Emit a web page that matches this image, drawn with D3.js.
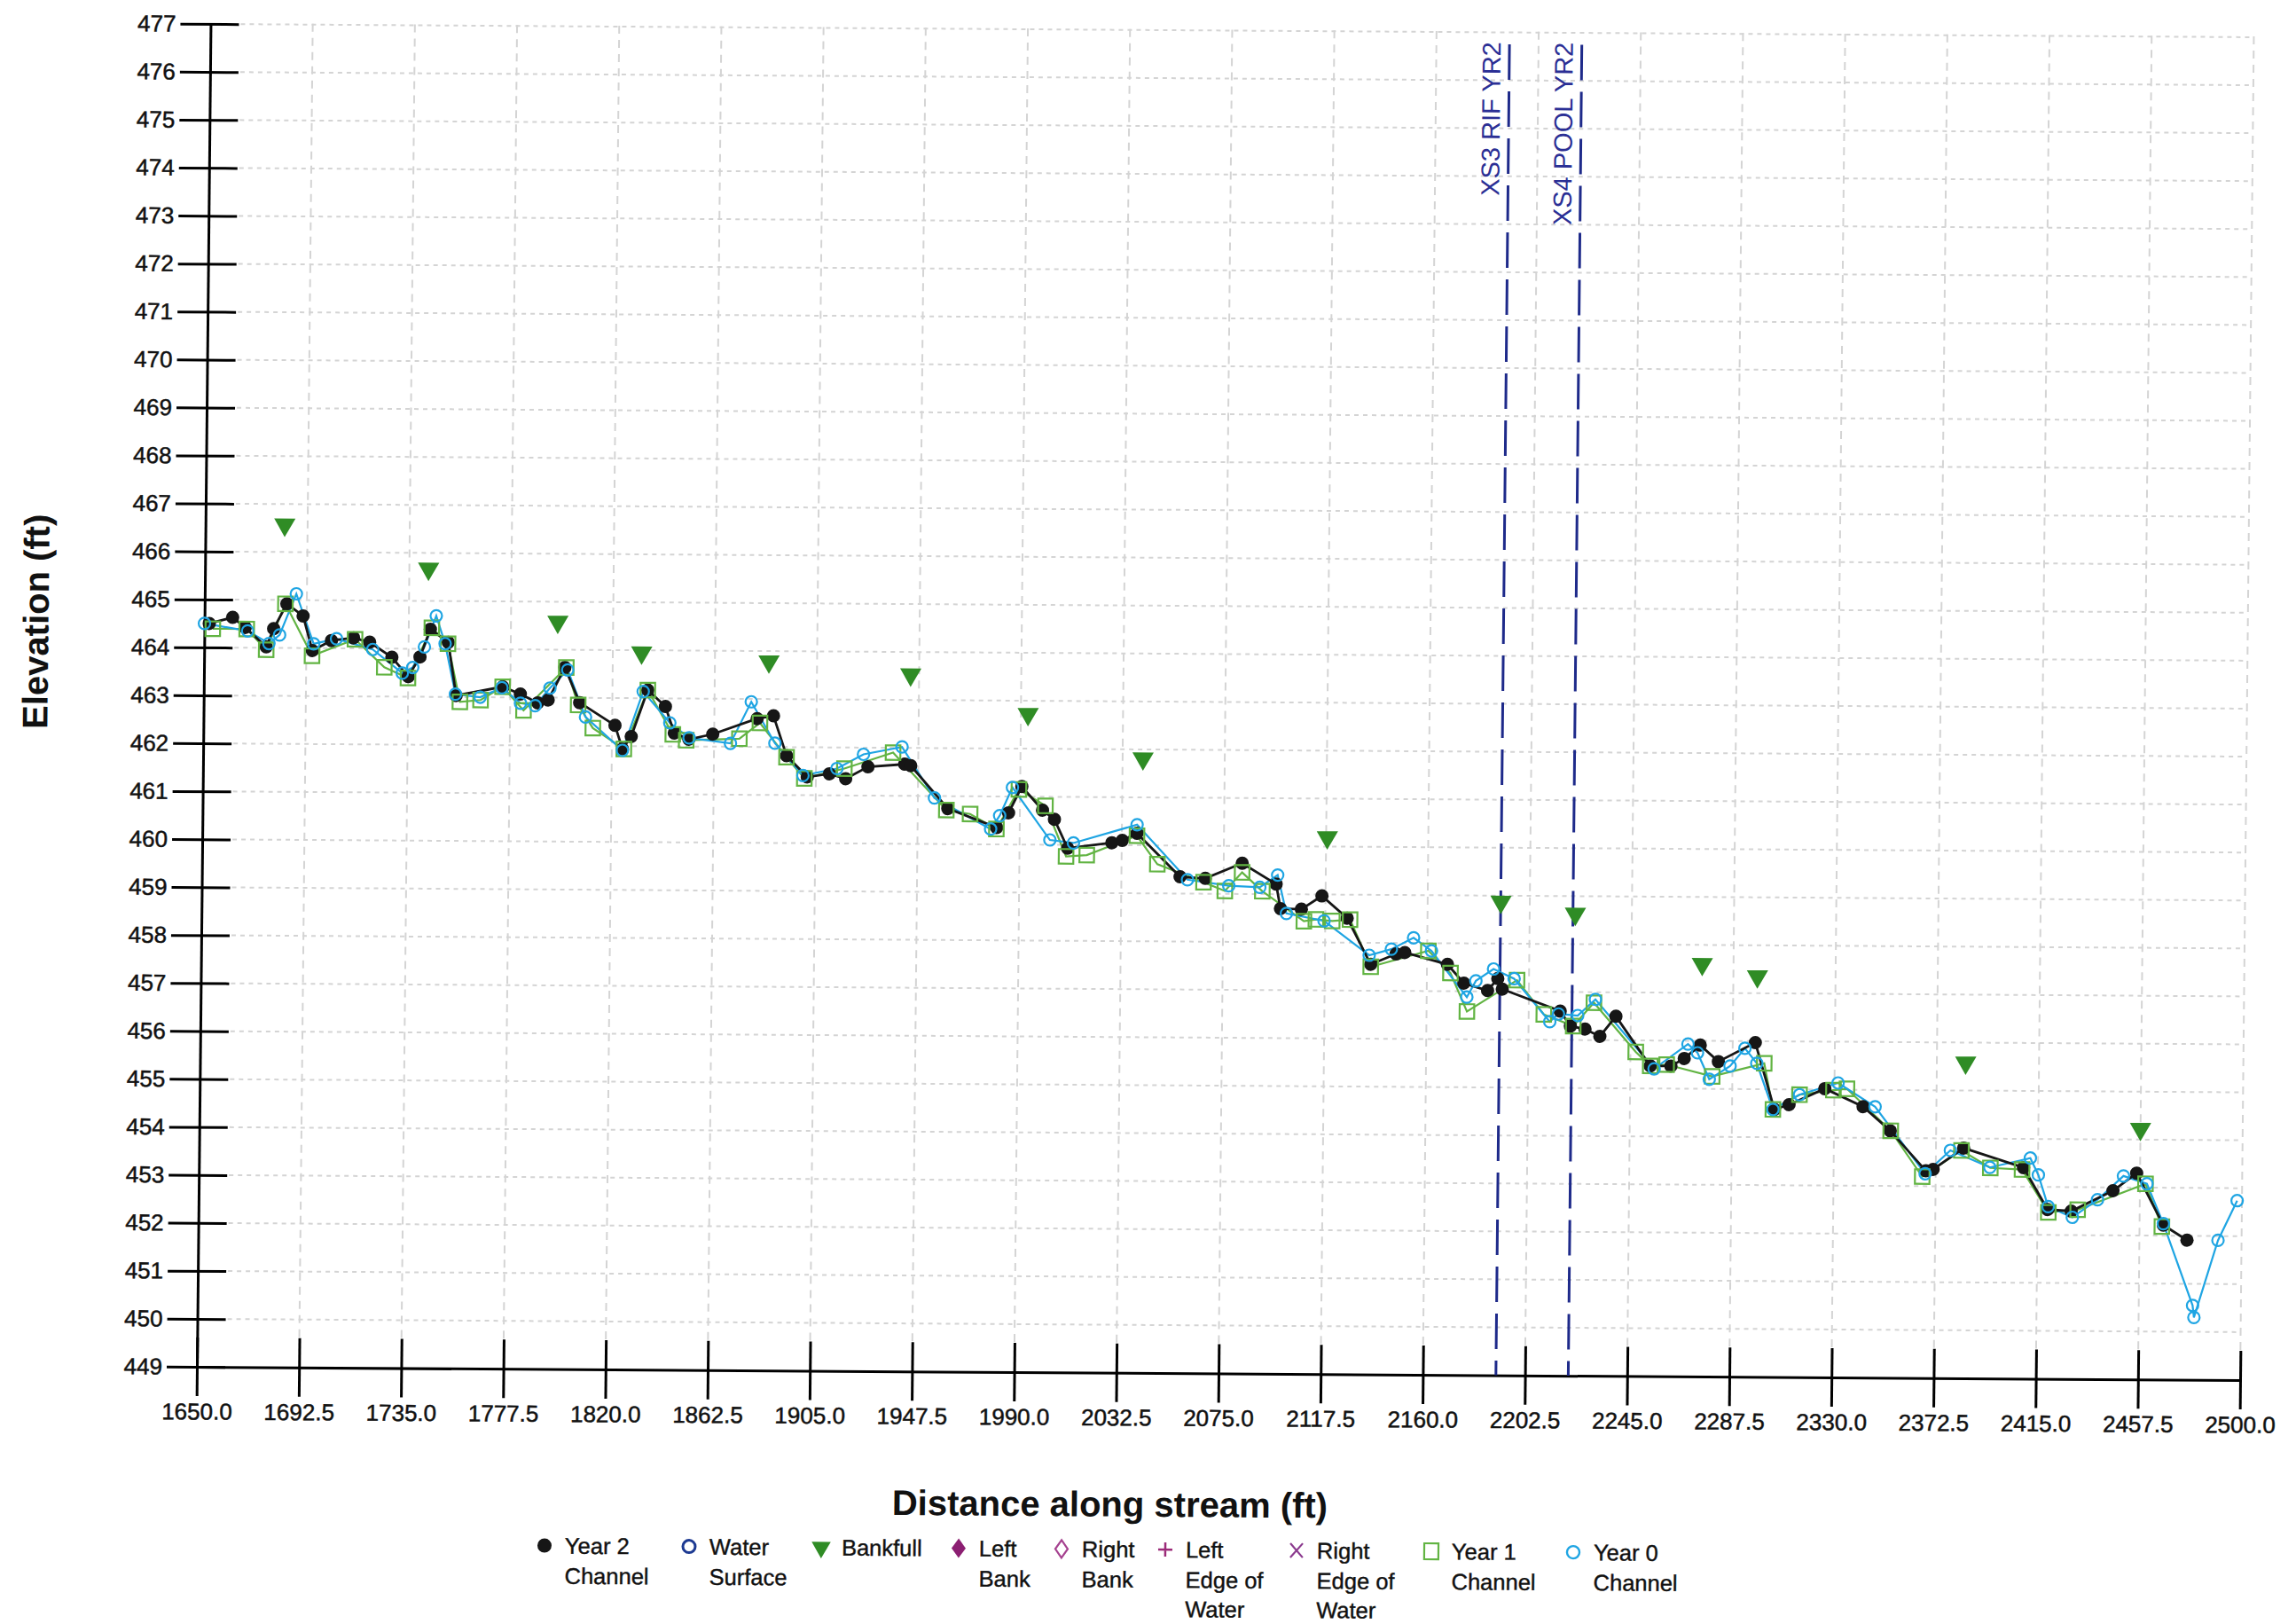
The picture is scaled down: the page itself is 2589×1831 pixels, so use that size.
<!DOCTYPE html>
<html><head><meta charset="utf-8">
<script src="https://cdn.jsdelivr.net/npm/d3@7/dist/d3.min.js"></script>
<style>
body{margin:0;background:#fff}
svg{display:block}
text{font-family:"Liberation Sans",Arial,Helvetica,sans-serif}
</style>
</head><body>
<svg id="chart" width="2589" height="1831"></svg>
<script>
// ---------------- DATA ----------------
const xTickValues = [1650.0,1692.5,1735.0,1777.5,1820.0,1862.5,1905.0,1947.5,1990.0,2032.5,2075.0,2117.5,2160.0,2202.5,2245.0,2287.5,2330.0,2372.5,2415.0,2457.5,2500.0];
const yTickValues = [449,450,451,452,453,454,455,456,457,458,459,460,461,462,463,464,465,466,467,468,469,470,471,472,473,474,475,476,477];

const year2Channel = [
 [1652,464.5],[1661.7,464.63],[1667,464.42],[1675.8,464.02],[1678.8,464.4],[1684.2,464.92],[1691,464.67],
 [1695,463.95],[1702.9,464.16],[1712.1,464.22],[1718.8,464.13],[1728.1,463.82],[1735,463.42],[1739.8,463.83],
 [1744,464.41],[1751.5,464.14],[1755,463.03],[1774.3,463.22],[1781.7,463.07],[1789,462.89],[1793.3,462.95],
 [1800.1,463.63],[1806.4,462.9],[1821.2,462.43],[1824.4,461.94],[1828,462.2],[1834.7,463.17],[1842.1,462.83],
 [1845.9,462.28],[1852,462.15],[1861.9,462.26],[1880.3,462.59],[1887.1,462.65],[1892.7,461.82],[1901.4,461.38],
 [1910.6,461.45],[1917.4,461.35],[1926.6,461.6],[1941.9,461.66],[1944.4,461.63],[1960,460.74],[1980.4,460.35],
 [1985.3,460.66],[1990.7,461.21],[1999.4,460.72],[2004.4,460.53],[2010,459.93],[2028.4,460.05],[2032.7,460.1],
 [2038.8,460.25],[2056.9,459.35],[2067.4,459.32],[2082.7,459.64],[2096.9,459.21],[2098.8,458.7],[2107.5,458.69],
 [2116,458.97],[2126.6,458.51],[2136.6,457.55],[2147.1,457.77],[2150.7,457.8],[2168.5,457.56],[2175.4,457.17],
 [2185.3,457.02],[2189.5,457.27],[2191.4,457.05],[2215.6,456.6],[2219.9,456.29],[2226,456.23],[2232.2,456.08],
 [2238.8,456.5],[2253.3,455.47],[2261.9,455.47],[2267.4,455.63],[2274,455.91],[2281.6,455.57],[2296.9,455.97],
 [2305.1,454.58],[2311.2,454.68],[2326,455.02],[2342,454.65],[2353.4,454.15],[2368.4,453.32],[2371.4,453.35],
 [2384,453.8],[2409,453.4],[2419.2,452.53],[2429,452.5],[2446.3,452.93],[2456.1,453.3],[2467.4,452.22],[2477.3,451.91]
];

const year1Channel = [
 [1653.5,464.39],[1667.6,464.39],[1675.8,463.96],[1683.6,464.92],[1694.9,463.84],[1712.7,464.19],[1725,463.61],
 [1734.9,463.39],[1744.6,464.44],[1751.4,464.11],[1756.6,462.9],[1765.2,462.94],[1774.3,463.22],[1783.1,462.73],
 [1800.7,463.63],[1805.8,462.85],[1812,462.37],[1825,461.94],[1834.7,463.17],[1845.3,462.25],[1850.9,462.13],
 [1873,462.17],[1881.5,462.5],[1892.7,461.79],[1900.2,461.35],[1916.8,461.56],[1937,461.9],[1959.4,460.71],
 [1969.3,460.63],[1980.3,460.32],[1989.5,461.15],[2000.6,460.81],[2009.4,459.76],[2018,459.79],[2038.8,460.2],
 [2047.4,459.61],[2066.7,459.24],[2075.6,459.06],[2082.7,459.45],[2091.2,459.06],[2108.6,458.44],[2113.6,458.48],
 [2120.4,458.45],[2127.8,458.48],[2136.6,457.5],[2160.5,457.84],[2169.8,457.38],[2176.8,456.58],[2197.5,457.24],
 [2208.8,456.53],[2221.1,456.29],[2229.6,456.78],[2247.2,455.76],[2253.3,455.47],[2260.1,455.5],[2279.1,455.26],
 [2300.7,455.54],[2304.5,454.58],[2315.5,454.89],[2329.6,454.99],[2335.2,455.02],[2353.6,454.15],[2366.9,453.2],
 [2383.1,453.75],[2395.2,453.39],[2408.4,453.36],[2419.5,452.47],[2431.7,452.53],[2459.8,453.08],[2466.8,452.19]
];

const year0Channel = [
 [1650,464.5],[1668,464.35],[1676.9,464.09],[1681.3,464.27],[1688.1,465.13],[1695.5,464.09],[1705,464.2],
 [1720.1,463.98],[1732.5,463.49],[1736.8,463.61],[1741.6,464.04],[1746.4,464.69],[1750.2,464.11],[1754.7,463.06],
 [1765,463.0],[1774,463.2],[1781.8,462.88],[1787.9,462.83],[1794,463.2],[1801.3,463.58],[1808.9,462.6],
 [1824.4,461.91],[1832.8,463.14],[1844,462.49],[1852.1,462.18],[1869.3,462.07],[1877.8,462.94],[1887.8,462.08],
 [1899.6,461.41],[1913.7,461.56],[1924.7,461.86],[1940.7,462.02],[1954.4,460.96],[1977.9,460.32],[1981.6,460.6],
 [1986.8,461.19],[2002.6,460.1],[2012.4,460.04],[2038.8,460.43],[2060,459.29],[2077.2,459.17],[2090.1,459.14],
 [2097.5,459.4],[2101.3,458.6],[2117,458.45],[2135.9,457.74],[2145.1,457.87],[2154.3,458.11],[2161.8,457.84],
 [2176.7,456.88],[2180.4,457.22],[2187.7,457.47],[2196.3,457.27],[2211.3,456.38],[2214.9,456.54],[2222.9,456.51],
 [2230.2,456.85],[2254.9,455.41],[2268.9,455.93],[2272.9,455.75],[2277.9,455.2],[2286.5,455.48],[2292.6,455.85],
 [2297.6,455.54],[2304.5,454.58],[2315.5,454.89],[2331.5,455.14],[2347,454.65],[2368.1,453.26],[2378.5,453.75],
 [2395,453.4],[2411.8,453.6],[2415.2,453.25],[2419.4,452.59],[2429.5,452.37],[2439.9,452.74],[2450.6,453.24],
 [2460.4,453.08],[2467.4,452.25],[2479.9,450.55],[2480.5,450.3],[2490.2,451.91],[2498,452.74]
];

const bankfull = [
 [1683,466.57],[1743,465.67],[1797,464.58],[1832,463.95],[1885,463.78],[1944,463.53],[1993,462.72],[2041,461.81],
 [2118,460.19],[2190.5,458.87],[2221.5,458.63],[2274.5,457.6],[2297.5,457.35],[2384.5,455.58],[2457.5,454.22]
];

const refLineDist = [2190.4, 2220.5];
const refLineLabels = ["XS3 RIF YR2", "XS4 POOL YR2"];

const legendLabels = [
 ["Year 2","Channel"],["Water","Surface"],["Bankfull"],["Left","Bank"],["Right","Bank"],
 ["Left","Edge of","Water"],["Right","Edge of","Water"],["Year 1","Channel"],["Year 0","Channel"]
];

const xTitle = "Distance along stream (ft)";
const yTitle = "Elevation (ft)";

// ---------------- STYLE / LAYOUT ----------------
const C = {
  y2:"#161616", y1:"#62b443", y0:"#1fa5e3", bank:"#2f8c25",
  ws:"#1d3a92", lb:"#8c1f72", rb:"#a5418f", lew:"#9b2a78", rew:"#8b3a8e", ref:"#1e2a8a"
};
const legendSymbolX = [616,779,928,1083,1199,1316,1464,1616,1776];

const svg = d3.select("#chart");
svg.append("rect").attr("width",2589).attr("height",1831).attr("fill","#fff");

// slight skew of the scanned original
const g = svg.append("g").attr("transform","matrix(1,0.0065,-0.0102,1,15.72,-1.44)");

const x = d3.scaleLinear().domain([1650,2500]).range([222,2526]);
const y = d3.scaleLinear().domain([449,477]).range([1541,27]);

// grid
const grid = g.append("g");
grid.selectAll("line.h").data(yTickValues.filter(v=>v>449)).join("line")
  .attr("x1",x(1650)+34).attr("x2",x(2500)).attr("y1",d=>y(d)).attr("y2",d=>y(d))
  .attr("stroke","#d4d4d4").attr("stroke-width",2).attr("stroke-dasharray","5,5");
grid.selectAll("line.v").data(xTickValues.filter(v=>v>1650)).join("line")
  .attr("x1",d=>x(d)).attr("x2",d=>x(d)).attr("y1",y(449)-34).attr("y2",y(477)-6)
  .attr("stroke","#d4d4d4").attr("stroke-width",2).attr("stroke-dasharray","9,7");

// axes
const yAx = g.append("g").attr("transform",`translate(${x(1650)},0)`)
  .call(d3.axisLeft(y).tickValues(yTickValues).tickFormat(d3.format("d")).tickSize(34).tickSizeOuter(0).tickPadding(5));
yAx.selectAll(".tick line").attr("x1",32).attr("stroke","#000").attr("stroke-width",3);
yAx.select(".domain").attr("stroke","#000").attr("stroke-width",3);
yAx.selectAll("text").attr("font-size",26).attr("fill","#111").attr("stroke","#111").attr("stroke-width",0.5)
  .attr("font-family","Liberation Sans, Arial, sans-serif");

const xAx = g.append("g").attr("transform",`translate(0,${y(449)})`)
  .call(d3.axisBottom(x).tickValues(xTickValues).tickFormat(d3.format(".1f")).tickSize(33).tickSizeOuter(0).tickPadding(8));
xAx.selectAll(".tick line").attr("y1",-33).attr("stroke","#000").attr("stroke-width",3);
xAx.select(".domain").attr("stroke","#000").attr("stroke-width",3);
xAx.selectAll("text").attr("font-size",26).attr("fill","#111").attr("stroke","#111").attr("stroke-width",0.5)
  .attr("font-family","Liberation Sans, Arial, sans-serif");

// titles
g.append("text").attr("transform",`translate(32,702) rotate(-90)`).attr("text-anchor","middle").attr("dy","0.35em")
  .attr("font-size",40).attr("font-weight","bold").attr("fill","#111").text(yTitle);
g.append("text").attr("x",1253).attr("y",1703).attr("text-anchor","middle")
  .attr("font-size",40).attr("font-weight","bold").attr("fill","#111").text(xTitle);

// reference lines
refLineDist.forEach((d,i)=>{
  g.append("line").attr("x1",x(d)).attr("x2",x(d)).attr("y1",y(476.75)).attr("y2",y(449))
    .attr("stroke",C.ref).attr("stroke-width",3).attr("stroke-dasharray","40,13");
  g.append("text").attr("transform",`translate(${x(d)-10},${y(476.8)}) rotate(-90)`)
    .attr("text-anchor","end").attr("font-size",29).attr("fill","#2b2f95").text(refLineLabels[i]);
});

// series
const line = d3.line().x(d=>x(d[0])).y(d=>y(d[1]));
const plot = g.append("g");
plot.append("path").datum(year1Channel).attr("d",line).attr("fill","none").attr("stroke",C.y1).attr("stroke-width",2.2);
plot.append("path").datum(year0Channel).attr("d",line).attr("fill","none").attr("stroke",C.y0).attr("stroke-width",2.2);
plot.append("path").datum(year2Channel).attr("d",line).attr("fill","none").attr("stroke",C.y2).attr("stroke-width",2.8);

plot.selectAll("circle.y2").data(year2Channel).join("circle")
  .attr("cx",d=>x(d[0])).attr("cy",d=>y(d[1])).attr("r",7.5).attr("fill",C.y2);
const sq = d3.symbol().type(d3.symbolSquare).size(270);
plot.selectAll("path.y1").data(year1Channel).join("path")
  .attr("transform",d=>`translate(${x(d[0])},${y(d[1])})`).attr("d",sq)
  .attr("fill","none").attr("stroke",C.y1).attr("stroke-width",2.2);
plot.selectAll("circle.y0").data(year0Channel).join("circle")
  .attr("cx",d=>x(d[0])).attr("cy",d=>y(d[1])).attr("r",6.5)
  .attr("fill","none").attr("stroke",C.y0).attr("stroke-width",2.2);
const tri = d3.symbol().type(d3.symbolTriangle).size(250);
plot.selectAll("path.bf").data(bankfull).join("path")
  .attr("transform",d=>`translate(${x(d[0])},${y(d[1])}) rotate(180)`).attr("d",tri).attr("fill",C.bank);

// legend
const leg = g.append("g");
const rowY = [1740,1774,1807];
const sym = [
  s=>s.append("circle").attr("r",8).attr("fill",C.y2),
  s=>s.append("circle").attr("r",7).attr("fill","none").attr("stroke",C.ws).attr("stroke-width",3),
  s=>s.append("path").attr("d",d3.symbol().type(d3.symbolTriangle).size(200)()).attr("transform","rotate(180)").attr("fill",C.bank),
  s=>s.append("path").attr("d","M0,-11L8,0L0,11L-8,0Z").attr("fill",C.lb),
  s=>s.append("path").attr("d","M0,-10L7,0L0,10L-7,0Z").attr("fill","none").attr("stroke",C.rb).attr("stroke-width",2.2),
  s=>s.append("path").attr("d","M-8,0H8M0,-8V8").attr("stroke",C.lew).attr("stroke-width",2.5),
  s=>s.append("path").attr("d","M-7,-8L7,8M-7,8L7,-8").attr("stroke",C.rew).attr("stroke-width",2.2),
  s=>s.append("rect").attr("x",-8).attr("y",-9).attr("width",16).attr("height",18).attr("fill","none").attr("stroke",C.y1).attr("stroke-width",2.2),
  s=>s.append("circle").attr("r",7).attr("fill","none").attr("stroke",C.y0).attr("stroke-width",2.4)
];
legendLabels.forEach((lines,i)=>{
  const cx = legendSymbolX[i];
  const s = leg.append("g").attr("transform",`translate(${cx},${rowY[0]})`);
  sym[i](s);
  lines.forEach((t,j)=>{
    leg.append("text").attr("x",cx+23).attr("y",rowY[j]+9).attr("font-size",25.5).attr("fill","#111")
      .attr("stroke","#111").attr("stroke-width",0.4).text(t);
  });
});
</script>
</body></html>
